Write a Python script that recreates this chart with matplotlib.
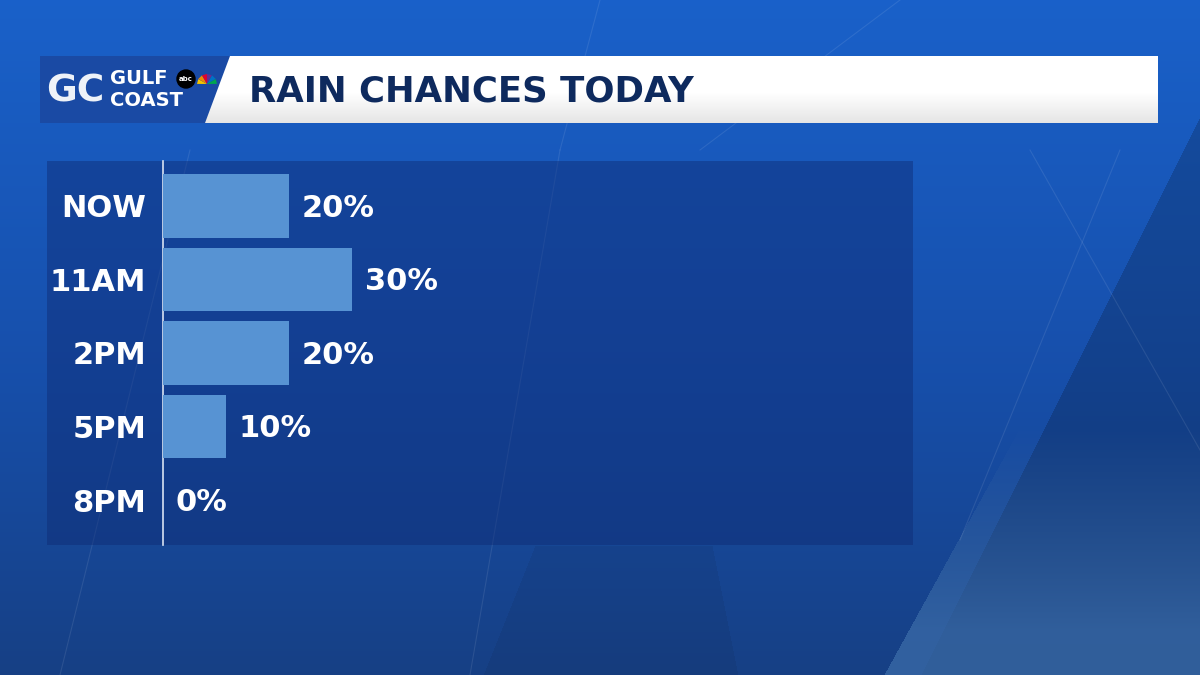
import numpy as np
import matplotlib
matplotlib.use("Agg")
import matplotlib.pyplot as plt
from matplotlib.patches import Polygon, Rectangle

# ---- data ----
categories = ["NOW", "11AM", "2PM", "5PM", "8PM"]
rain_chance = [20, 30, 20, 10, 0]
title = "RAIN CHANCES TODAY"

W, H = 1200, 675
fig = plt.figure(figsize=(12, 6.75), dpi=100)
FONT = "DejaVu Sans"

# ---- background ----
bg = fig.add_axes([0, 0, 1, 1])
bg.set_xlim(0, W)
bg.set_ylim(H, 0)
bg.axis("off")
yy, xx = np.mgrid[0:H, 0:W].astype(float)
t = (yy / H)[..., None]
top = np.array([0.10, 0.38, 0.79])
mid = np.array([0.09, 0.31, 0.67])
bot = np.array([0.09, 0.25, 0.52])
img = np.where(t < 0.55, top + (mid - top) * (t / 0.55),
               mid + (bot - mid) * np.clip((t - 0.55) / 0.45, 0, 1))
# dark wedge on right
dark = (xx > 1258 - 0.5 * yy)[..., None]
img = np.where(dark, img * 0.82, img)
# light hazy bottom-right
light_mask = (xx > 1255 - 0.55 * yy) & (yy > 430)
f = np.clip((yy - 430) / 200, 0, 1) * light_mask
haze = np.array([0.22, 0.41, 0.65])
img = img + (haze - img) * (f[..., None] * 0.8)
# slightly darker wedge bottom-middle
wedge = (yy > 545) & (xx > 535 + (yy - 545) * -0.4) & (xx < 712 + (yy - 545) * 0.2)
img = np.where(wedge[..., None], img * 0.94, img)
img = np.clip(img, 0, 1)
bg.imshow(img, extent=[0, W, H, 0], aspect="auto", zorder=0)

for (x0, y0, x1, y1) in [(1030, 150, 1200, 450), (1120, 150, 960, 540),
                         (60, 675, 190, 150), (470, 675, 560, 150),
                         (900, 0, 700, 150), (600, 0, 560, 150)]:
    bg.plot([x0, x1], [y0, y1], color="white", alpha=0.09, lw=0.8, zorder=1)

# ---- title bar ----
bg.add_patch(Rectangle((40, 56), 1118, 67, facecolor="white", lw=0, zorder=2))
grad = np.linspace(0, 1, 67)[:, None] * np.ones((1, 10))
bar_img = np.ones((67, 10, 3))
bar_img *= (1 - 0.10 * np.clip((grad - 0.55) / 0.45, 0, 1))[..., None]
bg.imshow(bar_img, extent=[40, 1158, 123, 56], aspect="auto", zorder=2)
bg.add_patch(Polygon([[40, 56], [230, 56], [205, 123], [40, 123]], closed=True,
                     facecolor="#1a4aa4", edgecolor="none", zorder=3))
bg.text(249, 91, title, color="#0e2a5e", fontsize=25.6, fontweight="bold",
        family=FONT, va="center", ha="left", zorder=4)
bg.text(46, 92, "GC", color="#eef2f8", fontsize=27, fontweight="bold",
        family=FONT, va="center", ha="left", zorder=4)
bg.text(110, 78, "GULF", color="white", fontsize=14, fontweight="bold",
        family=FONT, va="center", ha="left", zorder=4)
bg.text(110, 101, "COAST", color="white", fontsize=14, fontweight="bold",
        family=FONT, va="center", ha="left", zorder=4)
bg.add_patch(plt.Circle((186, 79), 9, color="black", zorder=4))
bg.text(186, 79, "abc", color="white", fontsize=5, fontweight="bold",
        va="center", ha="center", zorder=5)
for i, c in enumerate(["#f5c400", "#f08a00", "#e4002b", "#6a2c91", "#0072c6", "#00a651"]):
    ang = np.deg2rad(165 - i * 30)
    bg.add_patch(Polygon([[207, 84], [207 + 10 * np.cos(ang + 0.25), 84 - 10 * np.sin(ang + 0.25)],
                          [207 + 10 * np.cos(ang - 0.25), 84 - 10 * np.sin(ang - 0.25)]],
                         closed=True, facecolor=c, lw=0, zorder=4))

# ---- chart panel ----
bg.add_patch(Rectangle((47, 161), 866, 384, facecolor=(0.06, 0.17, 0.45),
                       alpha=0.45, lw=0, zorder=2))

ax = fig.add_axes([163 / W, 1 - 545 / H, (913 - 163) / W, 384 / H])
ax.patch.set_alpha(0)
y = np.arange(len(categories))
ax.barh(y, rain_chance, height=0.86, color="#5793d3", zorder=3)
ax.set_xlim(0, 119)
ax.set_ylim(4.61, -0.61)
for sp in ["top", "right", "bottom"]:
    ax.spines[sp].set_visible(False)
ax.spines["left"].set_color("#d8e2f2")
ax.spines["left"].set_linewidth(1.2)
ax.set_xticks([])
ax.set_yticks(y)
ax.set_yticklabels(categories, color="white", fontsize=22, fontweight="bold",
                   family=FONT)
ax.tick_params(axis="y", length=0, pad=12)
for yi, v in zip(y, rain_chance):
    ax.text(v + 2.0, yi + 0.03, f"{v}%", color="white", fontsize=22, fontweight="bold",
            family=FONT, va="center", ha="left", zorder=4)

fig.savefig("out.png", dpi=100)
